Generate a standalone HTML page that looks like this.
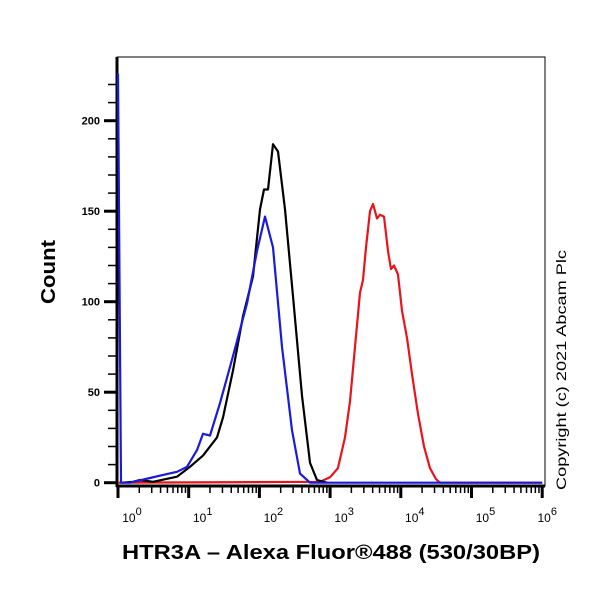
<!DOCTYPE html>
<html><head><meta charset="utf-8"><style>
body{margin:0;background:#fff}
svg{display:block;font-family:"Liberation Sans",Arial,sans-serif}
</style></head><body>
<svg id="chart" width="600" height="600" viewBox="0 0 600 600">
<rect width="600" height="600" fill="#fff"/>
<g id="axes"></g>
<g id="series"></g>
<text transform="translate(55,272) rotate(-90)" text-anchor="middle" font-size="20" font-weight="bold" textLength="64" lengthAdjust="spacingAndGlyphs">Count</text>
<text x="331" y="559" text-anchor="middle" font-size="20" font-weight="bold" textLength="418" lengthAdjust="spacingAndGlyphs">HTR3A – Alexa Fluor®488 (530/30BP)</text>
<text transform="translate(566,370) rotate(-90)" text-anchor="middle" font-size="14" textLength="240" lengthAdjust="spacingAndGlyphs">Copyright (c) 2021 Abcam Plc</text>
</svg>
<script>
const yTicks=[0,50,100,150,200];
const xDecades=[0,1,2,3,4,5,6];
const blueX=[0,0.042,0.17,0.453,0.636,0.834,0.976,1.117,1.202,1.301,1.443,1.627,1.825,1.966,2.079,2.192,2.32,2.461,2.574,2.716,6];
const blueY=[226,0,0,2.6,4.3,6,8.8,18,27,26,44,70,99,128,147,130,75,29,5,0,0];
const blackX=[0.05,0.212,0.311,0.495,0.834,1.018,1.202,1.4,1.485,1.627,1.768,1.909,2.008,2.065,2.122,2.192,2.263,2.362,2.475,2.603,2.716,2.815,2.956];
const blackY=[0,0.5,1.5,0.5,3.3,8.8,15,25,36,62,92,114,151,162,162,187,183,151,103,48,11,1.5,0];
const redX=[0,2.857,2.998,3.111,3.211,3.281,3.352,3.423,3.465,3.508,3.565,3.607,3.663,3.706,3.762,3.819,3.861,3.904,3.96,4.017,4.088,4.158,4.243,4.328,4.413,4.498,4.554,6];
const redY=[0,0.5,3,8,25,45,75,105,112,130,150,154,146,148,147,128,118,120,115,95,80,60,38,20,8,2,0,0];

const NS="http://www.w3.org/2000/svg";
const X=v=>118+v*70.7;
const Y=c=>482.7-c*1.81;
function mk(t,a,p){const e=document.createElementNS(NS,t);for(const k in a)e.setAttribute(k,a[k]);p.appendChild(e);return e;}
const ax=document.getElementById('axes');
const frame=mk('rect',{x:117,y:57,width:428,height:429,fill:'none',stroke:'#000','stroke-width':1},ax);


const yl=mk('line',{x1:117,y1:57,x2:117,y2:487,stroke:'#000','stroke-width':3},ax);


const xl=mk('line',{x1:116,y1:486,x2:545,y2:486,stroke:'#000','stroke-width':3},ax);


for(let c=0;c<=220;c+=10){
  const major=c%50===0;
  const t=mk('line',{x1:major?104:108,x2:117,y1:Y(c),y2:Y(c),stroke:'#000','stroke-width':major?3:1.5},ax);
  
  
}
yTicks.forEach(v=>{
  const t=mk('text',{x:100,y:Y(v)+4,'text-anchor':'end','font-size':11,'font-weight':'bold'},ax);
  t.textContent=v;
  
  
});
xDecades.forEach(d=>{
  const t=mk('line',{x1:X(d),x2:X(d),y1:486,y2:498,stroke:'#000','stroke-width':3},ax);
  
  
  if(d<6){for(let m=2;m<=9;m++){
    const mt=mk('line',{x1:X(d+Math.log10(m)),x2:X(d+Math.log10(m)),y1:486,y2:493,stroke:'#000','stroke-width':1.5},ax);
    
    
  }}
  const lab=mk('text',{x:X(d)+(d===6?5:14),y:522,'text-anchor':'middle','font-size':12},ax);
  
  
  lab.textContent='10';
  const sup=mk('tspan',{dy:-7,'font-size':11},lab);
  sup.textContent=d;
});
const sg=document.getElementById('series');
function line(xs,ys,col,name){
  const d=xs.map((x,i)=>(i?'L':'M')+X(x).toFixed(1)+','+Y(ys[i]).toFixed(1)).join('');
  const p=mk('path',{d:d,fill:'none',stroke:col,'stroke-width':2.2,'stroke-linejoin':'round'},sg);
  
  
}
line(redX,redY,'#e8141b','red-histogram');
line(blackX,blackY,'#000','black-histogram');
line(blueX,blueY,'#1a1adc','blue-histogram');
</script>
</body></html>
